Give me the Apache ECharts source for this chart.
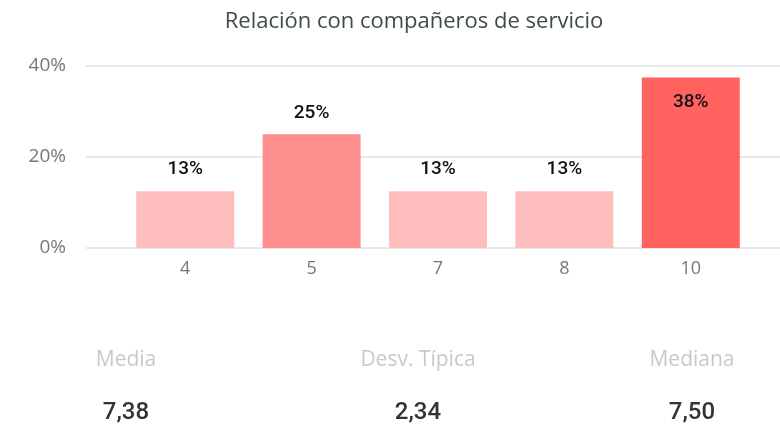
<!DOCTYPE html>
<html>
<head>
<meta charset="utf-8">
<script src="https://cdn.jsdelivr.net/npm/echarts@6/dist/echarts.min.js"></script>
<style>
  html, body { margin: 0; padding: 0; background: #fff; }
  #main { width: 780px; height: 429px; }
</style>
</head>
<body>
<div id="main"></div>
<script>
// categorias (puntuacion) y porcentaje de respuestas
var categorias = ['4', '5', '7', '8', '10'];
var porcentajes = [12.5, 25, 12.5, 12.5, 37.5];
var colores = ['#FEBEBE', '#FF8F8F', '#FEBEBE', '#FEBEBE', '#FF625F'];

// resumen
var statNombres = ['Media', 'Desv. Típica', 'Mediana'];
var statValores = ['7,38', '2,34', '7,50'];
var statX = [126, 418, 692];

var chart = echarts.init(document.getElementById('main'));

var datos = porcentajes.map(function(v, i) {
  var d = { value: v, itemStyle: { color: colores[i] } };
  // la barra mas alta lleva la etiqueta dentro
  if (v === Math.max.apply(null, porcentajes)) {
    d.label = { position: 'insideTop', distance: 15 };
  }
  return d;
});

var graficos = [];
statNombres.forEach(function(n, i) {
  graficos.push({
    type: 'text', x: statX[i], y: 360,
    style: { text: n, fill: '#C8C8C8', font: '21px "Open Sans"', textAlign: 'center', textVerticalAlign: 'middle' }
  });
  graficos.push({
    type: 'text', x: statX[i], y: 413,
    style: { text: statValores[i], fill: '#333333', font: '500 24px Roboto', textAlign: 'center', textVerticalAlign: 'middle' }
  });
});

chart.setOption({
  animation: false,
  title: {
    text: 'Relación con compañeros de servicio',
    left: 409, top: 6, textAlign: 'center',
    textStyle: { color: '#3F4B4B', fontSize: 22, fontWeight: 'normal', fontFamily: 'Open Sans' }
  },
  grid: [
    { left: 86, right: 0, top: 66, bottom: 181 },
    { left: 122, right: 26, top: 66, bottom: 181 }
  ],
  xAxis: [
    { gridIndex: 0, type: 'category', data: categorias, show: false },
    {
      gridIndex: 1, type: 'category', data: categorias,
      axisLine: { show: false }, axisTick: { show: false },
      axisLabel: { color: '#777', fontSize: 18, fontFamily: 'Open Sans', margin: 12 }
    }
  ],
  yAxis: [
    {
      gridIndex: 0, type: 'value', min: 0, max: 40, interval: 20,
      axisLabel: { color: '#777', fontSize: 19, fontFamily: 'Open Sans', margin: 20, formatter: '{value}%' },
      splitLine: { lineStyle: { color: '#E8E8E8', width: 2 } },
      axisLine: { show: false }, axisTick: { show: false }
    },
    { gridIndex: 1, type: 'value', min: 0, max: 40, show: false }
  ],
  series: [{
    type: 'bar',
    xAxisIndex: 1, yAxisIndex: 1,
    barWidth: 98,
    data: datos,
    label: {
      show: true, position: 'top', distance: 12,
      color: '#111', fontSize: 19, fontWeight: 500, fontFamily: 'Roboto',
      formatter: function(p) { return Math.round(p.value) + '%'; }
    }
  }],
  graphic: graficos
});
</script>
</body>
</html>
